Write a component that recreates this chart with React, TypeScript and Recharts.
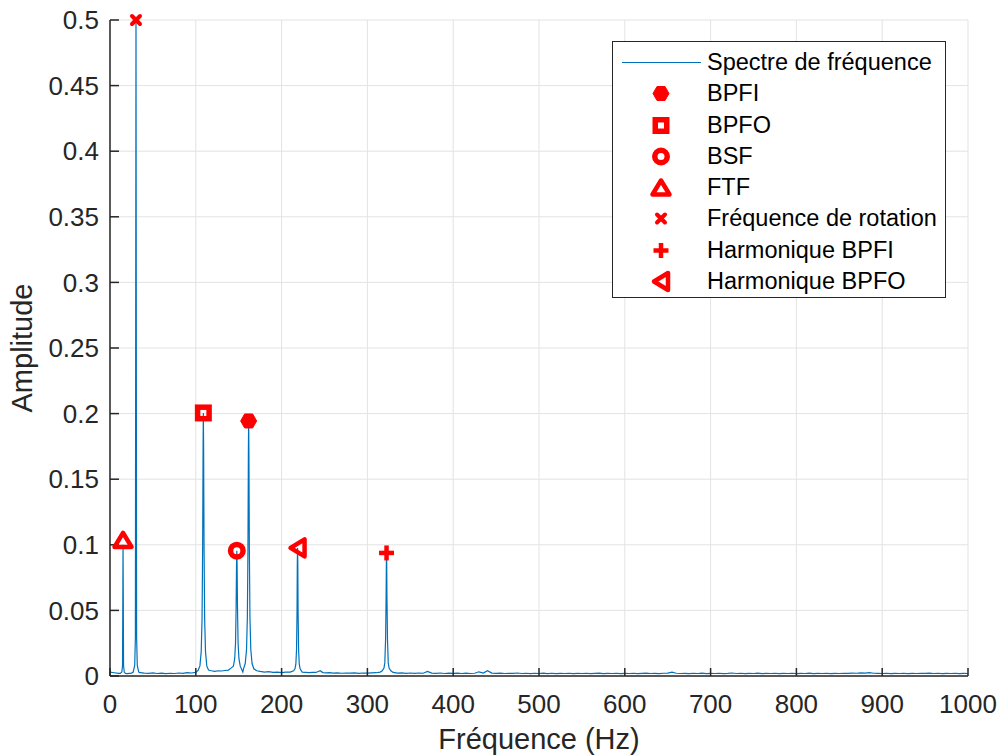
import React from 'react';
import { ComposedChart, Line, Scatter, XAxis, YAxis, CartesianGrid } from 'recharts';

const freqTicks = [0, 100, 200, 300, 400, 500, 600, 700, 800, 900, 1000];
const ampTicks = [0, 0.05, 0.1, 0.15, 0.2, 0.25, 0.3, 0.35, 0.4, 0.45, 0.5];

// [frequency Hz, amplitude]
const spectrum: [number, number][] = [
  [0, 0.003], [5, 0.0025], [10, 0.002], [12, 0.002],
  [13.8, 0.003], [14.6, 0.008], [15.0, 0.07], [15.2, 0.1], [15.4, 0.07], [15.8, 0.008], [16.6, 0.003],
  [18, 0.002], [20, 0.0018], [25, 0.0022], [27, 0.003],
  [28.8, 0.008], [29.6, 0.03], [30.0, 0.3], [30.3, 0.5], [30.6, 0.3], [31.0, 0.03], [31.8, 0.008],
  [33.5, 0.003], [35, 0.0025], [40, 0.0022], [45, 0.002], [50, 0.0024], [55, 0.0019], [60, 0.0022],
  [65, 0.0018], [70, 0.0021], [75, 0.0019], [80, 0.0023], [85, 0.002], [90, 0.0025], [95, 0.0023],
  [100, 0.0028],
  [102.8, 0.0045], [104.8, 0.0077], [106.3, 0.0186], [107.3, 0.044], [108.0, 0.1], [108.5, 0.175],
  [108.8, 0.2005], [109.1, 0.175], [109.6, 0.1], [110.3, 0.044], [111.3, 0.0186], [112.8, 0.0077],
  [114.8, 0.0045], [118, 0.004], [122, 0.0035], [126, 0.004], [130, 0.0038], [134, 0.0042],
  [138, 0.0045], [141, 0.006],
  [143.8, 0.0075], [145.3, 0.013], [146.3, 0.025], [147.0, 0.052], [147.5, 0.086], [147.8, 0.0955],
  [148.1, 0.086], [148.6, 0.052], [149.3, 0.025], [150.3, 0.013], [151.8, 0.0075], [154.8, 0.003],
  [155.6, 0.0055], [157.6, 0.0095], [159.1, 0.02], [160.1, 0.045], [160.8, 0.098], [161.3, 0.171],
  [161.6, 0.1944], [161.9, 0.171], [162.4, 0.098], [163.1, 0.045], [164.1, 0.02], [165.6, 0.0095],
  [167.6, 0.0055], [171, 0.004], [175, 0.0035], [180, 0.003], [185, 0.0033], [190, 0.0028],
  [195, 0.003], [200, 0.0026], [205, 0.0029], [210, 0.003], [214, 0.004],
  [215.6, 0.0055], [216.6, 0.009], [217.4, 0.02], [218.0, 0.05], [218.3, 0.085], [218.6, 0.0976],
  [218.9, 0.085], [219.2, 0.05], [219.8, 0.02], [220.6, 0.009], [221.6, 0.0055],
  [224, 0.003], [228, 0.0028], [232, 0.0026], [236, 0.0028], [240, 0.0027], [245, 0.004],
  [248, 0.0026], [252, 0.0024], [256, 0.0026], [260, 0.0022], [265, 0.0024], [270, 0.0021],
  [275, 0.0023], [280, 0.0022], [285, 0.0024], [290, 0.002], [295, 0.0023], [300, 0.0022],
  [305, 0.0024], [310, 0.0025], [315, 0.003],
  [317.3, 0.004], [319.3, 0.006], [320.3, 0.01], [321.2, 0.028], [321.8, 0.06], [322.1, 0.085],
  [322.3, 0.0938], [322.5, 0.085], [322.8, 0.06], [323.4, 0.028], [324.3, 0.01], [325.3, 0.006],
  [327.3, 0.004], [330, 0.0027], [335, 0.0022], [340, 0.0024], [345, 0.002], [350, 0.0023],
  [355, 0.002], [360, 0.0023], [365, 0.0021], [370, 0.0035], [375, 0.0022], [380, 0.002],
  [385, 0.0023], [390, 0.0019], [395, 0.0022], [400, 0.002], [405, 0.0022], [410, 0.0019],
  [415, 0.0022], [420, 0.0019], [425, 0.0021], [430, 0.0032], [435, 0.0022], [440, 0.004],
  [445, 0.0022], [450, 0.002], [455, 0.0022], [460, 0.0019], [465, 0.0021], [470, 0.002],
  [475, 0.0023], [480, 0.0019], [485, 0.0021], [490, 0.0018], [495, 0.0021], [500, 0.0019],
  [505, 0.0022], [510, 0.0018], [515, 0.0021], [520, 0.0018], [525, 0.002], [530, 0.0019],
  [535, 0.0021], [540, 0.0018], [545, 0.002], [550, 0.0019], [555, 0.0021], [560, 0.0018],
  [565, 0.002], [570, 0.0022], [575, 0.0018], [580, 0.002], [585, 0.0019], [590, 0.0021],
  [595, 0.0018], [600, 0.002], [605, 0.0019], [610, 0.0021], [615, 0.0018], [620, 0.002],
  [625, 0.0022], [630, 0.0019], [635, 0.002], [640, 0.0018], [645, 0.0021], [650, 0.0022],
  [655, 0.003], [660, 0.0021], [665, 0.0019], [670, 0.002], [675, 0.0018], [680, 0.0021],
  [685, 0.0019], [690, 0.0022], [695, 0.0018], [700, 0.002], [705, 0.0019], [710, 0.0021],
  [715, 0.0018], [720, 0.002], [725, 0.0023], [730, 0.0019], [735, 0.0021], [740, 0.0018],
  [745, 0.002], [750, 0.0019], [755, 0.0022], [760, 0.0018], [765, 0.002], [770, 0.0019],
  [775, 0.0021], [780, 0.0018], [785, 0.002], [790, 0.0019], [795, 0.0021], [800, 0.0018],
  [805, 0.002], [810, 0.0019], [815, 0.0022], [820, 0.0018], [825, 0.002], [830, 0.0019],
  [835, 0.0021], [840, 0.0018], [845, 0.002], [850, 0.0019], [855, 0.0021], [860, 0.002],
  [865, 0.0022], [870, 0.0021], [875, 0.0024], [880, 0.0022], [885, 0.0026], [890, 0.0021],
  [895, 0.002], [900, 0.0019], [905, 0.0021], [910, 0.0018], [915, 0.002], [920, 0.0019],
  [925, 0.0021], [930, 0.0018], [935, 0.002], [940, 0.0019], [945, 0.0021], [950, 0.002],
  [955, 0.0022], [960, 0.0019], [965, 0.0021], [970, 0.0018], [975, 0.002], [980, 0.0019],
  [985, 0.0021], [990, 0.0018], [995, 0.002], [1000, 0.0019],
];

const markerNames = ['BPFI', 'BPFO', 'BSF', 'FTF', 'Fréquence de rotation', 'Harmonique BPFI', 'Harmonique BPFO'];
const markerFreqs = [161.6, 108.8, 147.8, 15.2, 30.3, 322.3, 218.6];
const markerAmps = [0.1944, 0.2005, 0.0955, 0.1037, 0.5, 0.0938, 0.0976];

const glyphKinds = ['hex', 'square', 'circle', 'triUp', 'x', 'plus', 'triLeft'];

const RED = '#FF0000';
const INK = '#262626';
const BLUE = '#0072BD';
const FONT = '"Liberation Sans", Arial, Helvetica, sans-serif';

const data = spectrum.map(([f, a]) => ({ f, a }));

function Glyph({ kind, cx, cy }: { kind: string; cx: number; cy: number }) {
  const common = { fill: 'none', stroke: RED, strokeLinejoin: 'round' as const };
  let el: React.ReactNode = null;
  switch (kind) {
    case 'hex':
      el = <polygon points="-8,0 -4,-7 4,-7 8,0 4,7 -4,7" fill={RED} stroke={RED} strokeWidth={1} />;
      break;
    case 'square':
      el = <rect x={-5.75} y={-5.75} width={11.5} height={11.5} {...common} strokeWidth={5.5} strokeLinejoin="miter" />;
      break;
    case 'circle':
      el = <circle r={6.25} {...common} strokeWidth={5.5} />;
      break;
    case 'triUp':
      el = <polygon points="0,-7 8.5,7 -8.5,7" {...common} strokeWidth={4.5} />;
      break;
    case 'triLeft':
      el = <polygon points="-7,0 7,-8.5 7,8.5" {...common} strokeWidth={4.5} />;
      break;
    case 'plus':
      el = (
        <g stroke={RED} strokeWidth={4.5}>
          <line x1={-7.5} y1={0} x2={7.5} y2={0} />
          <line x1={0} y1={-7.5} x2={0} y2={7.5} />
        </g>
      );
      break;
    case 'x':
      el = (
        <g stroke={RED} strokeWidth={4} strokeLinecap="round">
          <line x1={-4} y1={-4} x2={4} y2={4} />
          <line x1={-4} y1={4} x2={4} y2={-4} />
        </g>
      );
      break;
  }
  return <g transform={`translate(${cx},${cy})`}>{el}</g>;
}

function XLabel({ viewBox }: any) {
  const { x, y, width } = viewBox;
  return (
    <text x={x + width / 2} y={y + 73} textAnchor="middle" fill={INK} fontSize={29} fontFamily={FONT}>
      Fréquence (Hz)
    </text>
  );
}

function YLabel({ viewBox }: any) {
  const { y, height } = viewBox;
  const cx = 32;
  const cy = y + height / 2;
  return (
    <text x={cx} y={cy} transform={`rotate(-90, ${cx}, ${cy})`} textAnchor="middle" fill={INK} fontSize={29} fontFamily={FONT}>
      Amplitude
    </text>
  );
}

function LegendBox() {
  const rows = ['Spectre de fréquence', ...markerNames];
  return (
    <div
      style={{
        position: 'absolute', left: 612, top: 41, width: 334, height: 257,
        border: `1px solid ${INK}`, background: '#fff', boxSizing: 'border-box',
        paddingTop: 5, fontFamily: FONT, fontSize: 23.5, color: '#000',
      }}
    >
      {rows.map((name, i) => (
        <div key={name} style={{ position: 'relative', height: 31.3 }}>
          <svg width={90} height={31} style={{ position: 'absolute', left: 0, top: 0 }}>
            {i === 0 ? (
              <line x1={9} y1={15.5} x2={88} y2={15.5} stroke={BLUE} strokeWidth={1.2} />
            ) : (
              <Glyph kind={glyphKinds[i - 1]} cx={48} cy={15.5} />
            )}
          </svg>
          <span style={{ position: 'absolute', left: 94, top: 0, lineHeight: '31px', whiteSpace: 'nowrap' }}>{name}</span>
        </div>
      ))}
    </div>
  );
}

const tickStyle = { fill: INK, fontSize: 26, fontFamily: FONT };

export default function App() {
  return (
    <div style={{ position: 'relative', width: 999, height: 756, background: '#fff' }}>
      <style>{`body{margin:0}`}</style>
      <ComposedChart width={999} height={756} data={data} margin={{ top: 20, right: 31, bottom: 0, left: 0 }}>
        <CartesianGrid stroke="#e3e3e3" strokeWidth={1} />
        <XAxis
          dataKey="f"
          type="number"
          domain={[0, 1000]}
          ticks={freqTicks}
          height={80}
          tick={tickStyle}
          tickSize={-8}
          tickMargin={27}
          axisLine={{ stroke: INK, strokeWidth: 1.5 }}
          tickLine={{ stroke: INK, strokeWidth: 1.5 }}
          label={<XLabel />}
        />
        <XAxis
          xAxisId="top"
          orientation="top"
          type="number"
          domain={[0, 1000]}
          ticks={freqTicks}
          height={0}
          tickSize={-8}
          tickFormatter={() => ''}
          axisLine={{ stroke: INK, strokeWidth: 1.5 }}
          tickLine={{ stroke: INK, strokeWidth: 1.5 }}
        />
        <YAxis
          type="number"
          domain={[0, 0.5]}
          ticks={ampTicks}
          width={110}
          tick={tickStyle}
          tickSize={-9}
          tickMargin={20}
          tickFormatter={(v: number) => String(v)}
          axisLine={{ stroke: INK, strokeWidth: 1.5 }}
          tickLine={{ stroke: INK, strokeWidth: 1.5 }}
          label={<YLabel />}
        />
        <YAxis
          yAxisId="right"
          orientation="right"
          type="number"
          domain={[0, 0.5]}
          ticks={ampTicks}
          width={0}
          tickSize={-9}
          tickFormatter={() => ''}
          axisLine={{ stroke: INK, strokeWidth: 1.5 }}
          tickLine={{ stroke: INK, strokeWidth: 1.5 }}
        />
        <Line
          dataKey="a"
          type="linear"
          stroke={BLUE}
          strokeWidth={1.2}
          dot={false}
          activeDot={false}
          isAnimationActive={false}
        />
        {markerNames.map((name, i) => (
          <Scatter
            key={name}
            name={name}
            data={[{ f: markerFreqs[i], a: markerAmps[i] }]}
            dataKey="a"
            isAnimationActive={false}
            shape={(p: any) => <Glyph kind={glyphKinds[i]} cx={p.cx} cy={p.cy} />}
          />
        ))}
      </ComposedChart>
      <LegendBox />
    </div>
  );
}
